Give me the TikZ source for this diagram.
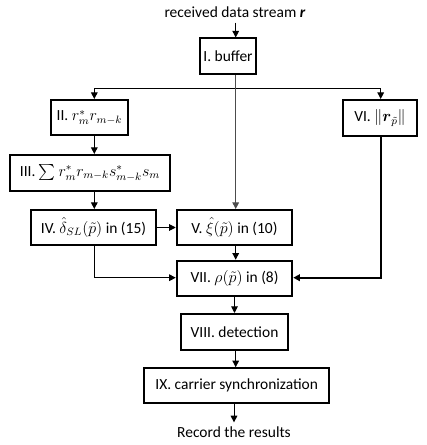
\documentclass[tikz,border=0pt]{standalone}
\usepackage{amsmath}
\usepackage{fontspec}
\setmainfont{Carlito}
\usetikzlibrary{arrows.meta}
\begin{document}
\begin{tikzpicture}[x=0.75pt,y=-0.75pt,
  font=\fontsize{11.6}{13.5}\selectfont,
  box/.style={draw,line width=1.5pt,inner sep=0pt,align=center},
  arr/.style={-{Triangle[length=5pt,width=5pt]},line width=0.75pt},
  thickarr/.style={-{Triangle[length=5pt,width=5pt]},line width=1.5pt}]
\useasboundingbox (0,0) rectangle (426,445);
% labels at the ends
\node (title) at (235,12.5) {received data stream \textbf{\textit{r}}};
\node (record) at (234,432.5) {Record the results};
% processing blocks
\node[box,minimum width=56pt*0.75,minimum height=36pt*0.75] (buffer) at (228,56.5) {I. buffer};
\node[box,minimum width=77.5pt*0.75,minimum height=35pt*0.75] (II) at (89.5,117.5) {II. $r_m^* r_{m-k}$};
\node[box,minimum width=73.5pt*0.75,minimum height=36pt*0.75] (VI) at (380,118) {VI. $\|\boldsymbol{r}_{\tilde p}\|$};
\node[box,minimum width=160pt*0.75,minimum height=36pt*0.75] (III) at (90,173) {III. $\sum r_m^* r_{m-k} s_{m-k}^* s_m$};
\node[box,minimum width=125pt*0.75,minimum height=35pt*0.75] (IV) at (93.5,227.5) {IV. $\hat\delta_{SL}(\tilde p)$ in (15)};
\node[box,minimum width=115.5pt*0.75,minimum height=35pt*0.75] (V) at (234.5,227.5) {V. $\hat\xi(\tilde p)$ in (10)};
\node[box,minimum width=115.5pt*0.75,minimum height=35pt*0.75] (VII) at (234.5,278.2) {VII. $\rho(\tilde p)$ in (8)};
\node[box,minimum width=107.5pt*0.75,minimum height=36pt*0.75] (VIII) at (234.5,332) {VIII. detection};
\node[box,minimum width=185pt*0.75,minimum height=35pt*0.75] (IX) at (236.7,385.7) {IX. carrier synchronization};
% routing points
\coordinate (colL) at (94.3,0);
\coordinate (colM) at (235.7,0);
\coordinate (split) at (235.7,88.3);
\coordinate (joinL) at (94.3,277.7);
\coordinate (joinR) at (380.7,277.7);
% connectors
\draw[arr] (title.south -| colM) -- (colM |- buffer.north);
\draw[line width=0.75pt,black!70] (colM |- buffer.south) -- (split);
\draw[arr] (split) -| (colL |- II.north);
\draw[arr] (split) -| (VI.north -| joinR);
\draw[arr,black!70] (split) -- (colM |- V.north);
\draw[arr] (colL |- II.south) -- (colL |- III.north);
\draw[arr] (colL |- III.south) -- (colL |- IV.north);
\draw[arr] (IV.east) -- (V.west);
\draw[arr] (V.south -| colM) -- (VII.north -| colM);
\draw[arr] (colL |- IV.south) -- (joinL) -- (joinL -| VII.west);
\draw[thickarr] (joinR |- VI.south) -- (joinR) -- (joinR -| VII.east);
\draw[arr] (VII.south) -- (VIII.north);
\draw[arr] (VIII.south -| colM) -- (IX.north -| colM);
\draw[arr] (IX.south -| record) -- (record.north);
\end{tikzpicture}
\end{document}
